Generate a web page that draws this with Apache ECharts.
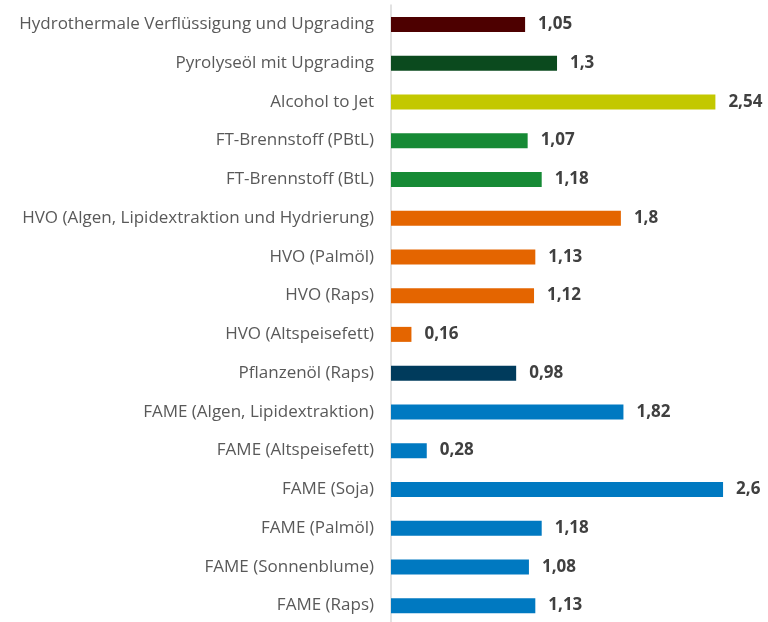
<!DOCTYPE html>
<html>
<head>
<meta charset="utf-8">
<script src="https://cdn.jsdelivr.net/npm/echarts@6/dist/echarts.min.js"></script>
<style>
  html, body { margin: 0; padding: 0; background: #fff; }
  #chart { width: 768px; height: 622px; }
</style>
</head>
<body>
<div id="chart"></div>
<script>
// categories top to bottom
const categories = [
  'Hydrothermale Verflüssigung und Upgrading',
  'Pyrolyseöl mit Upgrading',
  'Alcohol to Jet',
  'FT-Brennstoff (PBtL)',
  'FT-Brennstoff (BtL)',
  'HVO (Algen, Lipidextraktion und Hydrierung)',
  'HVO (Palmöl)',
  'HVO (Raps)',
  'HVO (Altspeisefett)',
  'Pflanzenöl (Raps)',
  'FAME (Algen, Lipidextraktion)',
  'FAME (Altspeisefett)',
  'FAME (Soja)',
  'FAME (Palmöl)',
  'FAME (Sonnenblume)',
  'FAME (Raps)'
]
const values = [1.05, 1.3, 2.54, 1.07, 1.18, 1.8, 1.13, 1.12, 0.16, 0.98, 1.82, 0.28, 2.6, 1.18, 1.08, 1.13]

// bar colours by group
const barColors = [
  '#4d0000', '#0b4a1e', '#c3c800', '#168a35', '#168a35',
  '#e46500', '#e46500', '#e46500', '#e46500', '#003b5c',
  '#0079c1', '#0079c1', '#0079c1', '#0079c1', '#0079c1', '#0079c1'
]

const chart = echarts.init(document.getElementById('chart'))

const option = {
  animation: false,
  grid: {
    left: 391,
    top: 5,
    width: 357.6,
    height: 620,
    outerBoundsMode: 'none'
  },
  xAxis: {
    type: 'value',
    min: 0,
    max: 2.8,
    show: false
  },
  yAxis: {
    type: 'category',
    data: categories,
    inverse: true,
    axisLine: {
      lineStyle: { color: '#d9d9d9', width: 1.5 }
    },
    axisTick: { show: false },
    axisLabel: {
      color: '#595959',
      fontFamily: 'Open Sans',
      fontSize: 17,
      margin: 17
    }
  },
  series: [{
    type: 'bar',
    barWidth: 15,
    data: values.map((v, i) => ({
      value: v,
      itemStyle: { color: barColors[i] }
    })),
    label: {
      show: true,
      position: 'right',
      distance: 13,
      color: '#404040',
      fontWeight: 'bold',
      fontFamily: 'Open Sans',
      fontSize: 17,
      formatter: p => String(p.value).replace('.', ',')
    }
  }]
}

chart.setOption(option)
</script>
</body>
</html>
